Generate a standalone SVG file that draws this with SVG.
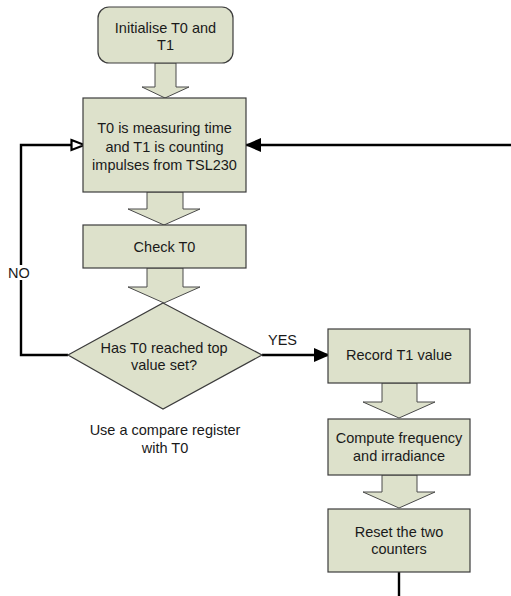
<svg xmlns="http://www.w3.org/2000/svg" width="511" height="596" viewBox="0 0 511 596">
<defs>
<style>
.box{fill:#dde1cb;stroke:#3c3c3c;stroke-width:1.2}
.blk{fill:#dde1cb;stroke:#4a4a4a;stroke-width:1}
.t{font-family:"Liberation Sans",Arial,sans-serif;font-size:14.5px;fill:#1a1a1a;text-anchor:middle}
.lbl{font-family:"Liberation Sans",Arial,sans-serif;font-size:14.5px;fill:#1a1a1a}
.con{fill:none;stroke:#000;stroke-width:2.4}
</style>
<marker id="open" viewBox="0 0 16 14" refX="15" refY="7" markerWidth="16" markerHeight="14" markerUnits="userSpaceOnUse" orient="auto">
<path d="M1.5,2 L14.5,7 L1.5,12 Z" fill="#fff" stroke="#000" stroke-width="2.2"/>
</marker>
<marker id="fill" viewBox="0 0 16 14" refX="16" refY="7" markerWidth="16" markerHeight="14" markerUnits="userSpaceOnUse" orient="auto">
<path d="M0,0 L16,7 L0,14 Z" fill="#000"/>
</marker>
</defs>
<g id="connectors">
<polyline class="con" points="262,355 330,355" marker-end="url(#fill)"/>
<polyline class="con" points="68,355 21,355 21,145 85,145" marker-end="url(#open)"/>
<polyline class="con" points="511,145 245,145" marker-end="url(#fill)"/>
<line class="con" x1="399" y1="572" x2="399" y2="596" stroke-width="2.6"/>
<polygon class="blk" points="155,63 176,63 176,87 189,87 165,98 142,87 155,87"/>
<polygon class="blk" points="147,192 183,192 183,209 200,209 164,225 128,209 147,209"/>
<polygon class="blk" points="147,268 183,268 183,287 200,287 164,303 128,287 147,287"/>
<polygon class="blk" points="382,383 417,383 417,402 435,402 399,418 363,402 382,402"/>
<polygon class="blk" points="382,475 417,475 417,492 435,492 399,508 363,492 382,492"/>
</g>
<g id="init">
<rect class="box" x="98" y="7" width="135" height="56" rx="11" ry="11"/>
<text class="t" x="165.5" y="33">Initialise T0 and</text>
<text class="t" x="165.5" y="50">T1</text>
</g>
<g id="measure">
<rect class="box" x="83" y="98" width="163" height="94"/>
<text class="t" x="164.5" y="133">T0 is measuring time</text>
<text class="t" x="164.5" y="151.5">and T1 is counting</text>
<text class="t" x="164.5" y="170">impulses from TSL230</text>
</g>
<g id="check">
<rect class="box" x="83" y="225" width="163" height="43"/>
<text class="t" x="164.5" y="252">Check T0</text>
</g>
<g id="decision">
<polygon class="box" points="163,303 262,355 163,409 68,355"/>
<text class="t" x="164" y="353">Has T0 reached top</text>
<text class="t" x="164" y="370">value set?</text>
</g>
<g id="note">
<text class="t" x="165" y="435">Use a compare register</text>
<text class="t" x="165" y="453">with T0</text>
</g>
<g id="labels">
<rect x="7" y="265" width="27" height="15" fill="#fff"/>
<text class="lbl" x="8" y="278">NO</text>
<text class="lbl" x="268" y="345">YES</text>
</g>
<g id="record">
<rect class="box" x="328" y="329" width="142" height="54"/>
<text class="t" x="399" y="360">Record T1 value</text>
</g>
<g id="compute">
<rect class="box" x="328" y="419" width="142" height="56"/>
<text class="t" x="399" y="443">Compute frequency</text>
<text class="t" x="399" y="461">and irradiance</text>
</g>
<g id="reset">
<rect class="box" x="328" y="509" width="142" height="63"/>
<text class="t" x="399" y="537">Reset the two</text>
<text class="t" x="399" y="554">counters</text>
</g>
</svg>
